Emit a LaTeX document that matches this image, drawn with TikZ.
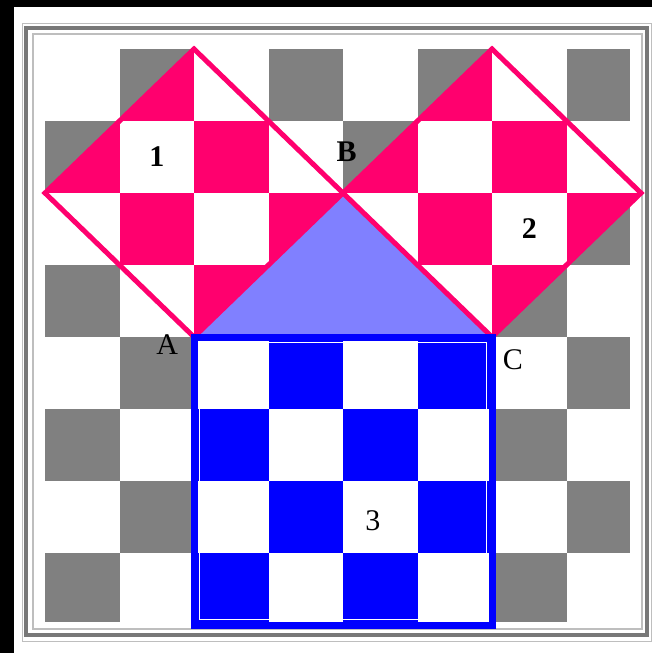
\documentclass[tikz,border=0pt]{standalone}
\usepackage{fontspec}
\setmainfont{Liberation Serif}
\usepackage{tikz}

\definecolor{cellgray}{RGB}{128,128,128}
\definecolor{framegray}{RGB}{120,120,120}
\definecolor{lightframe}{RGB}{190,190,190}
\definecolor{squarepink}{RGB}{255,0,110}
\definecolor{squareblue}{RGB}{0,0,255}
\definecolor{trianglefill}{RGB}{128,128,255}

\newcommand{\oddcells}[1]{%
	\foreach \r in {0,...,7}
		\foreach \c in {0,...,7}
		{
			\pgfmathtruncatemacro{\odd}{mod(\r+\c,2)}
			\ifnum\odd=1 \fill[#1] (\c,\r) rectangle ++(1,1); \fi
		}%
}

\begin{document}
\begin{tikzpicture}[x=1pt, y=-1pt,
	label/.style={font=\fontsize{30}{30}\selectfont, inner sep=0pt},
	side/.style={draw=squarepink, line width=5pt, line join=miter}]
	\useasboundingbox (0,0) rectangle (652,653);
	\fill[black] (0,0) rectangle (652,653);
	\fill[white] (14,7) rectangle (652,653);

	\draw[lightframe, line width=1pt] (22,23) rectangle (651,641);
	\draw[framegray, line width=3.5pt] (26,28) rectangle (647,635);
	\draw[lightframe, line width=1.2pt] (33,34) rectangle (642,629);

	\begin{scope}[shift={(45,49)}, x=74.5pt, y=-72pt]
		\coordinate (A) at (2,4);
		\coordinate (B) at (4,2);
		\coordinate (C) at (6,4);
		\coordinate (L) at (0,2);
		\coordinate (T) at (2,0);
		\coordinate (U) at (6,0);
		\coordinate (R) at (8,2);
		\coordinate (D) at (2,8);
		\coordinate (E) at (6,8);

		\begin{scope}
			\clip (0,0) rectangle (7.85,7.95);
			\oddcells{cellgray}
		\end{scope}

		\fill[white] (A) -- (L) -- (T) -- (B) -- cycle;
		\begin{scope}
			\clip (A) -- (L) -- (T) -- (B) -- cycle;
			\oddcells{squarepink}
		\end{scope}

		\fill[white] (B) -- (U) -- (R) -- (C) -- cycle;
		\begin{scope}
			\clip (B) -- (U) -- (R) -- (C) -- cycle;
			\oddcells{squarepink}
		\end{scope}

		\fill[white] (A) rectangle (E);
		\begin{scope}
			\clip (A) rectangle (E);
			\oddcells{squareblue}
		\end{scope}

		\fill[trianglefill] (A) -- (B) -- (C) -- cycle;

		\draw[side] (A) -- (L) -- (T) -- (B) -- cycle;
		\draw[side] (B) -- (U) -- (R) -- (C) -- cycle;
		\draw[squareblue, line width=7pt] (A) -- (C) -- (E) -- (D) -- cycle;
		\draw[white, line width=1.2pt] ([xshift=5.5pt,yshift=-5.5pt]A) rectangle ([xshift=-5.5pt,yshift=5.5pt]E);

		\node (n1) at (1.5,1.5) [label] {\bfseries 1};
		\node (n2) at (6.5,2.5) [label] {\bfseries 2};
		\node (n3) at (4.4,6.55) [label] {3};
		\node (lA) at (1.64,4.11) [label] {A};
		\node (lB) at (4.05,1.42) [label] {\bfseries B};
		\node (lC) at (6.28,4.32) [label] {C};
	\end{scope}
\end{tikzpicture}
\end{document}
